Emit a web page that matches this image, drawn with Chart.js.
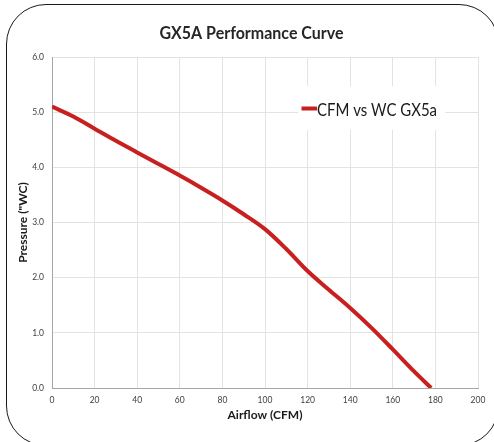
<!DOCTYPE html>
<html>
<head>
<meta charset="utf-8">
<script src="https://cdn.jsdelivr.net/npm/chart.js@4/dist/chart.umd.min.js"></script>
<style>
  html, body { margin: 0; padding: 0; background: #fff; width: 494px; height: 442px; overflow: hidden; }
  #frame { position: absolute; left: 6px; top: 4px; width: 493px; height: 442px; box-sizing: border-box;
           border: 1.5px solid #1a1a1a; border-radius: 40px; }
  #wrap { position: absolute; left: 0; top: 0; width: 494px; height: 442px; }
</style>
</head>
<body>
<div id="frame"></div>
<div id="wrap"><canvas id="c" width="494" height="442"></canvas></div>
<script>
// ---- data ----
const chartTitle = 'GX5A Performance Curve';
const seriesLabel = 'CFM vs WC GX5a';
const xAxisTitle = 'Airflow (CFM)';
const yAxisTitle = 'Pressure ("WC)';
const airflowCFM = [0, 10, 20, 30, 40, 50, 60, 70, 80, 90, 100, 110, 120, 130, 140, 150, 160, 170, 178];
const pressureWC = [5.10, 4.92, 4.70, 4.48, 4.27, 4.06, 3.85, 3.63, 3.40, 3.15, 2.88, 2.52, 2.12, 1.78, 1.45, 1.09, 0.70, 0.30, 0.00];
const xTickMin = 0, xTickMax = 200, xTickStep = 20;
const yTickMin = 0, yTickMax = 6, yTickStep = 1;

const RED = '#c7201f';
const FONT = 'Lato, "Open Sans", sans-serif';

function drawCondensed(ctx, text, x, y, size, weight, targetW, align) {
  // draw text at given size, horizontally compressed to target width (Calibri-like narrow look)
  ctx.font = `${weight} ${size}px ${FONT}`;
  const w = ctx.measureText(text).width;
  const sx = Math.min(1, targetW / w);
  ctx.save();
  ctx.translate(x, y);
  ctx.scale(sx, 1);
  ctx.textAlign = align;
  ctx.fillText(text, 0, 0);
  ctx.restore();
}

const titlePlugin = {
  id: 'customTitle',
  afterDraw(chart) {
    const ctx = chart.ctx;
    ctx.save();
    ctx.fillStyle = '#262626';
    ctx.textBaseline = 'middle';
    drawCondensed(ctx, chartTitle, 251.5, 34, 16.5, 'bold', 184, 'center');
    ctx.restore();
  }
};

const legendPlugin = {
  id: 'customLegend',
  afterDatasetsDraw(chart) {
    const ctx = chart.ctx;
    const ds = chart.data.datasets[0];
    ctx.save();
    ctx.fillStyle = '#ffffff';
    ctx.fillRect(298, 86, 147, 44);
    ctx.strokeStyle = ds.borderColor;
    ctx.lineWidth = 4;
    ctx.beginPath();
    ctx.moveTo(301.5, 108.5);
    ctx.lineTo(317, 108.5);
    ctx.stroke();
    ctx.fillStyle = '#1a1a1a';
    ctx.textBaseline = 'alphabetic';
    drawCondensed(ctx, ds.label, 317, 115.5, 16.5, 'normal', 120, 'left');
    ctx.restore();
  }
};

new Chart(document.getElementById('c'), {
  type: 'line',
  data: {
    datasets: [{
      label: seriesLabel,
      data: airflowCFM.map((x, i) => ({ x, y: pressureWC[i] })),
      borderColor: RED,
      backgroundColor: RED,
      borderWidth: 4,
      pointRadius: 0,
      tension: 0.4,
      cubicInterpolationMode: 'monotone',
      fill: false
    }]
  },
  options: {
    responsive: false,
    animation: false,
    devicePixelRatio: 1,
    layout: { padding: { top: 57, right: 16, left: 0, bottom: 0 } },
    plugins: {
      legend: { display: false },
      title: { display: false },
      tooltip: { enabled: false }
    },
    scales: {
      x: {
        type: 'linear',
        min: xTickMin, max: xTickMax,
        afterFit(s) { s.height = 54; },
        ticks: { stepSize: xTickStep, color: '#404040', font: { family: FONT, size: 8.5 }, padding: 7, maxRotation: 0 },
        grid: { color: '#e3e3e3', drawTicks: false, lineWidth: 1 },
        border: { color: '#a6a6a6', width: 1 },
        title: { display: true, text: xAxisTitle, color: '#1a1a1a', font: { family: FONT, size: 12, weight: 'bold' }, padding: { top: 4, bottom: 20 } }
      },
      y: {
        min: yTickMin, max: yTickMax,
        afterFit(s) { s.width = 52; },
        ticks: { stepSize: yTickStep, color: '#404040', font: { family: FONT, size: 8.5 }, padding: 8, callback: v => Number(v).toFixed(1) },
        grid: { color: '#e3e3e3', drawTicks: false, lineWidth: 1 },
        border: { color: '#a6a6a6', width: 1 },
        title: { display: true, text: yAxisTitle, color: '#1a1a1a', font: { family: FONT, size: 12, weight: 'bold' }, padding: { top: 16, bottom: 0 } }
      }
    }
  },
  plugins: [titlePlugin, legendPlugin]
});
</script>
</body>
</html>
